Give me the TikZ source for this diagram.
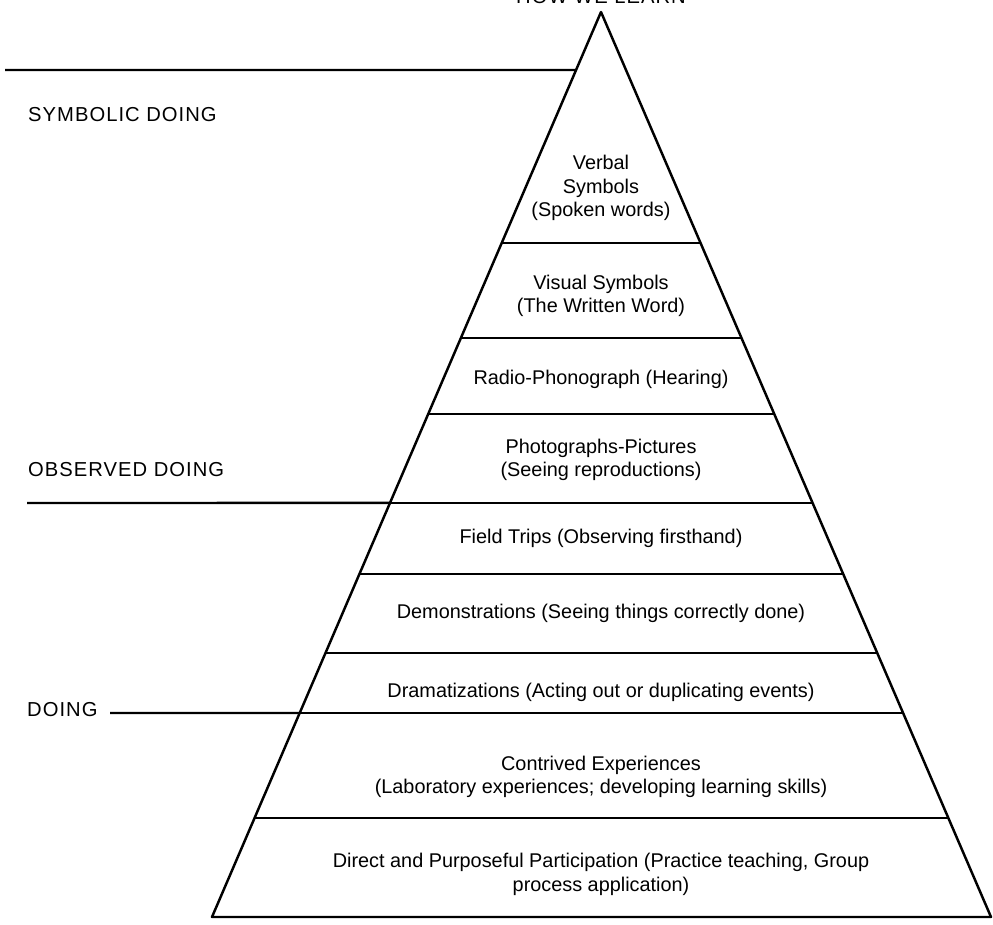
\documentclass[tikz,border=0pt]{standalone}
\usepackage{fontspec}
\setmainfont{Liberation Sans}
\newfontfamily\sidefont[LetterSpace=5]{Liberation Sans}
\usetikzlibrary{calc}

\begin{document}
\begin{tikzpicture}[x=0.02cm,y=-0.02cm,line width=1.4pt,
    tier/.style={font=\fontsize{11.3}{13.5}\selectfont,align=center,inner sep=0pt},
    side/.style={font=\sidefont\fontsize{11.5}{13}\selectfont,anchor=west,inner sep=0pt}]
  \clip (0,0) rectangle (993,925);
  % the pyramid
  \coordinate (top) at (601,12);
  \coordinate (bl) at (212,917);
  \coordinate (br) at (991,917);
  \draw [line join=round] (bl) -- (top) -- (br) -- cycle;
  \foreach \t in {0.2552,0.3602,0.4442,0.5425,0.6210,0.7083,0.7746,0.8906}
    \draw ($(top)!\t!(bl)$) -- ($(top)!\t!(br)$);
  % side lines
  \coordinate (symline) at (5,70);
  \coordinate (obsline) at (27,503);
  \coordinate (doline) at (110,713);
  \draw (symline) -- ($(top)!0.0641!(bl)$);
  \draw (obsline) -- ($(top)!0.5425!(bl)$);
  \draw (doline) -- ($(top)!0.7746!(bl)$);
  % labels
  \node (title) [side,anchor=base] at (601,4) {HOW WE LEARN};
  \node (symbolic) [side] at (27,115) {SYMBOLIC DOING};
  \node (observed) [side] at (27,470) {OBSERVED DOING};
  \node (doing) [side] at (26,710) {DOING};
  % tiers
  \node (verbal) [tier] at (601,188) {Verbal\\Symbols\\(Spoken words)};
  \node (visual) [tier] at (601,296) {Visual Symbols\\(The Written Word)};
  \node (radio) [tier] at (601,379) {Radio-Phonograph (Hearing)};
  \node (photo) [tier] at (601,460) {Photographs-Pictures\\(Seeing reproductions)};
  \node (field) [tier] at (601,538) {Field Trips (Observing firsthand)};
  \node (demo) [tier] at (601,613) {Demonstrations (Seeing things correctly done)};
  \node (drama) [tier] at (601,692) {Dramatizations (Acting out or duplicating events)};
  \node (contrived) [tier] at (601,777) {Contrived Experiences\\(Laboratory experiences; developing learning skills)};
  \node (direct) [tier] at (601,874) {Direct and Purposeful Participation (Practice teaching, Group\\process application)};
\end{tikzpicture}
\end{document}
